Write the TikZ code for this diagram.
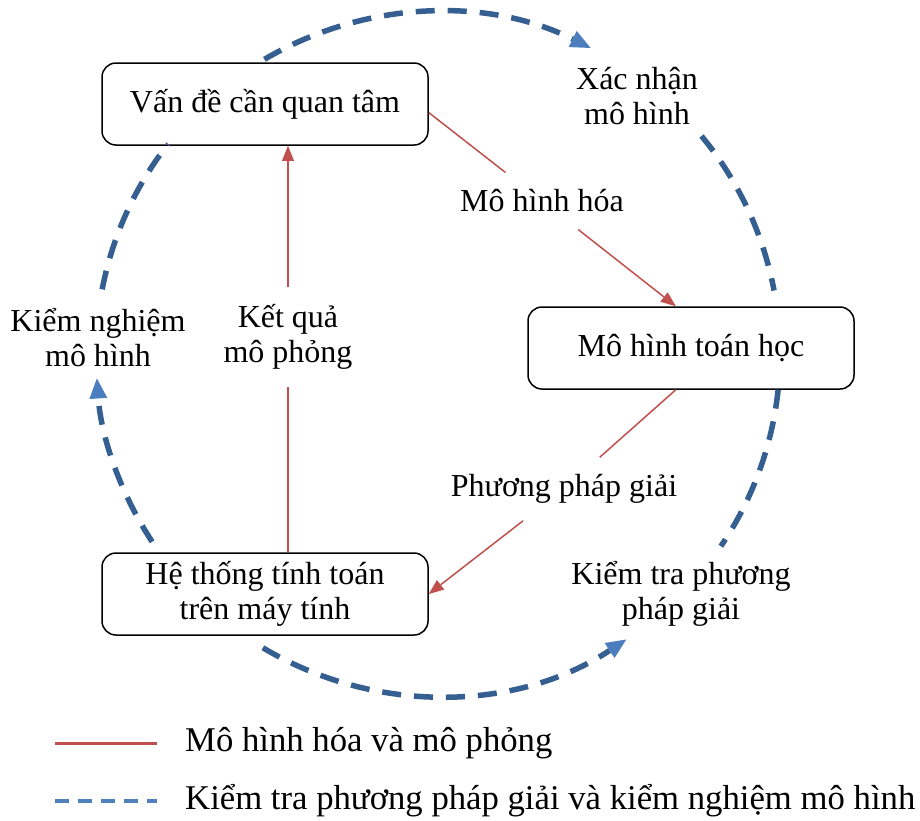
\documentclass[tikz,border=0pt]{standalone}
\usepackage{fontspec}
\setmainfont{Liberation Serif}
\usetikzlibrary{arrows.meta}
\definecolor{redln}{HTML}{C0504D}
\definecolor{blueln}{HTML}{355F91}
\definecolor{bluetip}{HTML}{4A7EBF}
\definecolor{bluelg}{HTML}{4F81BD}
\begin{document}
\begin{tikzpicture}[x=1pt,y=-1pt,font=\fontsize{32}{35}\selectfont]
\tikzset{box/.style={draw,line width=1.5pt,rounded corners=14pt,minimum width=326pt,minimum height=82pt,align=center},
lbl/.style={align=center,inner xsep=4pt,inner ysep=17pt},
lgtext/.style={anchor=west,inner xsep=0pt,font=\fontsize{34.7}{38}\selectfont},
redarr/.style={redln,line width=1.5pt,>={Triangle[length=15pt,width=12pt,line width=0pt]}},
bluearc/.style={blueln,line width=5.5pt,dash pattern=on 19pt off 13pt,>={Triangle[length=20pt,width=18pt,line width=0pt,color=bluetip]}}}
\useasboundingbox (0,0) rectangle (920,820);
% boxes
\node[box] (van) at (265,104) {Vấn đề cần quan tâm};
\node[box] (mht) at (691,348) {Mô hình toán học};
\node[box] (htt) at (265,594) {Hệ thống tính toán\\trên máy tính};
% red flow
\node[lbl] (mhh) at (542,201) {Mô hình hóa};
\node[lbl] (ppg) at (564,489) {Phương pháp giải};
\node[lbl] (kq) at (288,337) {Kết quả\\mô phỏng};
\draw[redarr] (van.-3) -- (mhh);
\draw[redarr,->] (mhh) -- (mht.110);
\draw[redarr] (mht.-110) -- (ppg);
\draw[redarr,->] (ppg) -- (htt.east);
\draw[redarr] (kq |- htt.north) -- (kq);
\draw[redarr,->] (kq) -- (kq |- van.south);
% blue checks
\node[align=center] (xn) at (637,96) {Xác nhận\\mô hình};
\node[align=center] (kn) at (98,338) {Kiểm nghiệm\\mô hình};
\node[align=center] (kt) at (681,594) {Kiểm tra phương\\pháp giải};
\coordinate (ctr) at (438,354);
\draw[bluearc,->] ([shift={(-120.5:342)}]ctr) arc[start angle=-120.5,end angle=-63.5,radius=342];
\draw[bluearc] ([shift={(-39.6:342)}]ctr) arc[start angle=-39.6,end angle=-10.7,radius=342];
\draw[bluearc] ([shift={(6:342)}]ctr) arc[start angle=6,end angle=34.2,radius=342];
\draw[bluearc,->] ([shift={(120.8:342)}]ctr) arc[start angle=120.8,end angle=56.6,radius=342];
\draw[bluearc,->] ([shift={(146.7:342)}]ctr) arc[start angle=146.7,end angle=175.9,radius=342];
\draw[bluearc] ([shift={(-169.1:342)}]ctr) arc[start angle=-169.1,end angle=-142.1,radius=342];
% legend
\coordinate (lga) at (55,743);
\coordinate (lgb) at (157,743);
\coordinate (lgc) at (55,801);
\coordinate (lgd) at (157,801);
\draw[redln,line width=3pt] (lga) -- (lgb);
\draw[bluelg,line width=4pt,dash pattern=on 14pt off 9pt] (lgc) -- (lgd);
\node[lgtext] (lgt1) at (185,743) {Mô hình hóa và mô phỏng};
\node[lgtext] (lgt2) at (185,801) {Kiểm tra phương pháp giải và kiểm nghiệm mô hình};
\end{tikzpicture}
\end{document}
